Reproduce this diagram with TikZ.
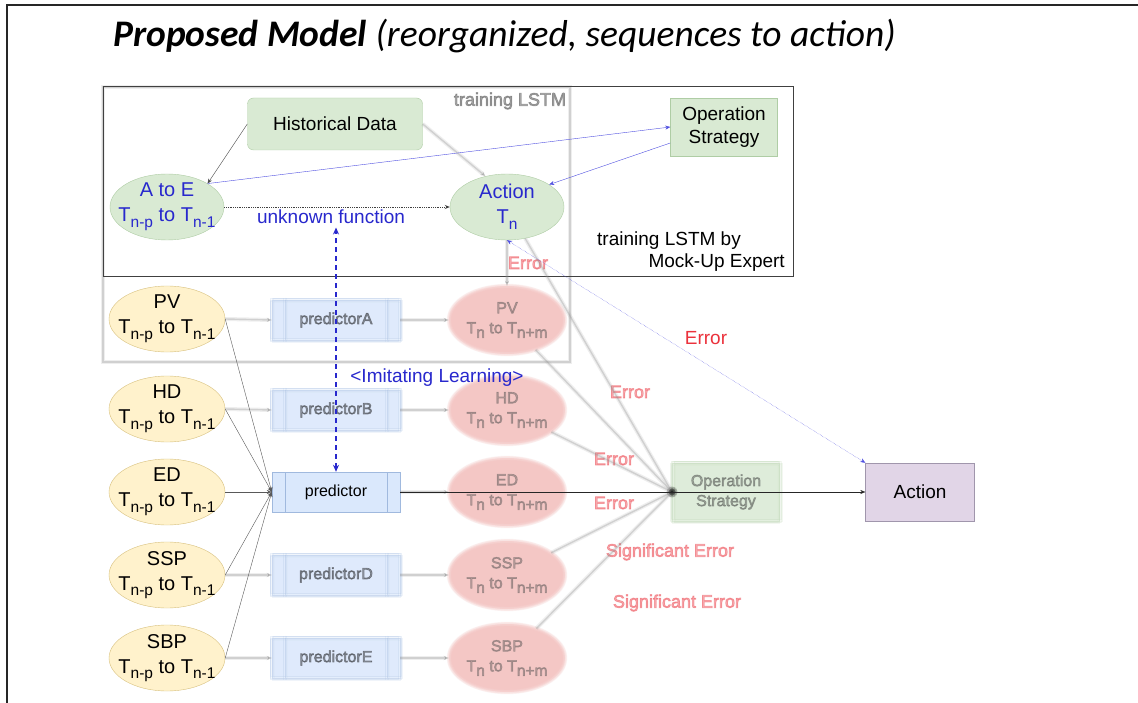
\documentclass[tikz,border=0pt]{standalone}
\usepackage{fontspec}
\setmainfont{Liberation Sans}
\newfontfamily\titlefont{Carlito}
\newfontfamily\hazefont[FakeBold=4]{Liberation Sans}
\usetikzlibrary{arrows.meta,shapes.geometric,calc}

\definecolor{grfill}{RGB}{217,234,211}
\definecolor{grdraw}{RGB}{175,205,165}
\definecolor{yefill}{RGB}{255,242,204}
\definecolor{yedraw}{RGB}{215,192,125}
\definecolor{blfill}{RGB}{218,232,252}
\definecolor{bldraw}{RGB}{160,185,222}
\definecolor{rdfill}{RGB}{244,188,186}
\definecolor{pufill}{RGB}{225,213,231}
\definecolor{pudraw}{RGB}{160,150,172}
\definecolor{bltext}{RGB}{40,40,205}
\definecolor{blline}{RGB}{80,80,225}
\definecolor{errred}{RGB}{235,50,60}

% subscript as set in the ellipses
\newcommand\sbs[1]{\raisebox{-0.28em}{\fontsize{15.5}{16}\selectfont #1}}

% soft, out-of-focus shape: faint offset copies of the outline, text on top
\newcommand\hazyshape[4]{%
  \foreach \hx/\hy in {-2.2/0,2.2/0,0/-2.2,0/2.2,-1.6/-1.6,1.6/1.6,-1.6/1.6,1.6/-1.6}{
    \node[#3,opacity=0.15] at ([shift={(\hx,\hy)}]#2) {};
  }
  \node[#3,fill opacity=0.28,draw opacity=0.28,text opacity=0.36,font=\hazefont\fontsize{16}{20}\selectfont] (#1) at (#2) {#4};
}
% soft, out-of-focus text
\newcommand\hazytext[4]{%
  \node[#3,font=\hazefont\fontsize{18}{22}\selectfont,text opacity=0.4] (#1) at (#2) {#4};
}
% soft, out-of-focus path
\newcommand\hazypath[2][]{\draw[hazewide,#1] #2; \draw[hazethin,#1] #2;}

\tikzset{
  arr/.style={-{Stealth[length=5pt,width=4pt]}},
  arrs/.style={{Stealth[length=5pt,width=4pt]}-{Stealth[length=5pt,width=4pt]}},
  hazewide/.style={draw=black!40, line width=4pt, opacity=0.16},
  hazethin/.style={draw=black!45, line width=1.4pt, opacity=0.3},
  greenround/.style={rectangle, rounded corners=6pt, fill=grfill, draw=grdraw,
    minimum width=175, minimum height=52},
  greenbox/.style={rectangle, fill=grfill, draw=grdraw, align=center,
    minimum width=107, minimum height=58, inner sep=0pt},
  ellbase/.style={ellipse, align=center, font=\fontsize{20}{25}\selectfont,
    inner xsep=-16pt, inner ysep=-8pt},
  greenell/.style={ellbase, fill=grfill, draw=grdraw, text=bltext,
    minimum width=114, minimum height=66},
  yell/.style={ellbase, fill=yefill, draw=yedraw,
    minimum width=116, minimum height=66},
  redell/.style={ellbase, fill=rdfill, text=black!70,
    minimum width=116, minimum height=68},
  procbox/.style={rectangle, fill=blfill, draw=bldraw,
    minimum width=128, minimum height=40, inner sep=0pt,
    font=\fontsize{16}{19}\selectfont,
    path picture={
      \draw[bldraw] ([xshift=13pt]path picture bounding box.north west) --
                    ([xshift=13pt]path picture bounding box.south west);
      \draw[bldraw] ([xshift=-13pt]path picture bounding box.north east) --
                    ([xshift=-13pt]path picture bounding box.south east);}},
  purplebox/.style={rectangle, fill=pufill, draw=pudraw,
    minimum width=109, minimum height=58},
  errtxt/.style={text=errred},
}

\begin{document}
\begin{tikzpicture}[x=1pt,y=-1pt,font=\fontsize{19}{23}\selectfont]
\useasboundingbox (0,0) rectangle (1138,703);
\fill[white] (0,0) rectangle (1138,703);

% slide frame
\draw[line width=2pt, black!85] (1138,5) -- (7,5) -- (7,703);

% title
\node[anchor=base west, inner sep=0pt, font=\titlefont\fontsize{37.5}{42}\selectfont] (title)
  at (113,47) {\textbf{\textit{Proposed Model}} \textit{(reorganized, sequences to action)}};

% ---------- background layer of the earlier diagram (out of focus) ----------
\hazypath{(103,87) rectangle (570,362)}
\hazytext{oldlbl}{510,101}{text=black!80}{training LSTM}

\hazyshape{pA}{336,320}{procbox}{predictorA}
\hazyshape{pB}{336,410}{procbox}{predictorB}
\hazyshape{pD}{336,575}{procbox}{predictorD}
\hazyshape{pE}{336,658}{procbox}{predictorE}

\hazyshape{rPV}{507,320}{redell}{PV\\T\sbs{n} to T\sbs{n+m}}
\hazyshape{rHD}{507,410}{redell}{HD\\T\sbs{n} to T\sbs{n+m}}
\hazyshape{rED}{507,492}{redell}{ED\\T\sbs{n} to T\sbs{n+m}}
\hazyshape{rSSP}{507,575}{redell}{SSP\\T\sbs{n} to T\sbs{n+m}}
\hazyshape{rSBP}{507,658}{redell}{SBP\\T\sbs{n} to T\sbs{n+m}}

\hazyshape{osB}{726,492}{greenbox,text=black!80}{Operation\\Strategy}
\hazyshape{hub}{672,492}{circle,fill=black,inner sep=0pt,minimum size=7}{}

\hazytext{e0}{528,263}{errtxt}{Error}
\hazytext{e1}{630,392}{errtxt}{Error}
\hazytext{e2}{614,459}{errtxt}{Error}
\hazytext{e3}{614,503}{errtxt}{Error}
\hazytext{e4}{670,552}{errtxt}{Significant Error}
\hazytext{e5}{677,603}{errtxt}{Significant Error}

% ---------- sharp nodes ----------
\draw[black!75, line width=1pt] (103,87) rectangle (793,277);

\node[greenround] (hist) at (335,124) {Historical Data};
\node[greenbox] (ostop) at (724,127) {Operation\\Strategy};
\node[greenell] (atoe) at (167,207) {A to E\\T\sbs{n-p} to T\sbs{n-1}};
\node[greenell] (actn) at (507,207) {Action\\T\sbs{n}};

\node[anchor=base west, inner sep=0pt] (tr1) at (597,246) {training LSTM by};
\node[anchor=base east, inner sep=0pt] (tr2) at (785,268) {Mock-Up Expert};

\node[yell] (yPV)  at (167,319) {PV\\T\sbs{n-p} to T\sbs{n-1}};
\node[yell] (yHD)  at (167,409) {HD\\T\sbs{n-p} to T\sbs{n-1}};
\node[yell] (yED)  at (167,492) {ED\\T\sbs{n-p} to T\sbs{n-1}};
\node[yell] (ySSP) at (167,575) {SSP\\T\sbs{n-p} to T\sbs{n-1}};
\node[yell] (ySBP) at (167,658) {SBP\\T\sbs{n-p} to T\sbs{n-1}};

\node[procbox] (pred) at (336,492) {predictor};
\node[purplebox] (act) at (920,492) {Action};

\node[text=bltext] (unk) at (331,217) {unknown function};
\node[text=bltext] (imit) at (437,378) {<Imitating Learning>};
\node[errtxt] (err) at (706,338) {Error};

% ---------- background connectors (out of focus) ----------
\hazypath[arr]{(hist.east) -- (actn.125)}
\hazypath[arr]{(actn.south) -- (rPV.north)}
\foreach \y/\p/\r in {yPV/pA/rPV, yHD/pB/rHD, ySSP/pD/rSSP, ySBP/pE/rSBP}{
  \hazypath[arr]{(\y.east) -- (\p.west)}
  \hazypath[arr]{(\p.east) -- (\r.west)}
}
\hazypath[arr]{(pred.east) -- (rED.west)}
\hazypath{(actn.-60) -- (hub)}
\foreach \r in {rPV, rHD, rSSP, rSBP}{
  \hazypath{(\r) -- (hub)}
}

% ---------- sharp connectors ----------
\draw[black!70, arr] (hist.west) -- (atoe.30);
\draw[blline, arr] (atoe.30) -- (ostop.west);
\draw[blline, arr] ([yshift=-16pt]ostop.west) -- (actn.28);
\draw[black!75, densely dotted, thick, arr] (atoe.east) -- (actn.west);

\foreach \n in {yPV, yHD, yED, ySSP, ySBP}{
  \draw[black!65, arr] (\n.east) -- (pred.west);
}
\draw[black!85, arr] (pred.east) -- (act.west);

\draw[bltext, dashed, line width=1.6pt, dash pattern=on 5pt off 4pt,
  {Stealth[length=7pt,width=6pt]}-{Stealth[length=7pt,width=6pt]}]
  (pred.north) -- (pred.north |- unk.south);
\draw[blline, densely dotted, arrs] (actn.south) -- (act.north west);
\end{tikzpicture}
\end{document}
